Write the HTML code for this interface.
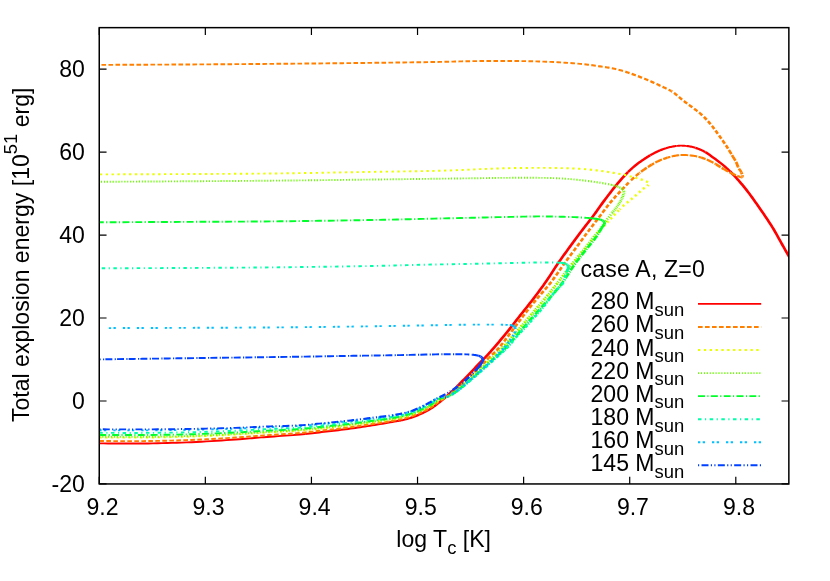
<!DOCTYPE html>
<html><head><meta charset="utf-8"><title>plot</title>
<style>html,body{margin:0;padding:0;background:#fff;}svg{display:block;will-change:transform;}text{font-family:"Liberation Sans",sans-serif;fill:#000;}</style></head><body>
<svg width="830" height="581" viewBox="0 0 830 581">
<defs><clipPath id="c"><rect x="99.25" y="27.65" width="689.60" height="456.30"/></clipPath></defs>
<g fill="none" stroke-linejoin="round" clip-path="url(#c)">
<g stroke="#ff0000"><path d="M99.30,443.40 L103.68,443.42 L108.05,443.44 L112.41,443.47 L116.76,443.50 L121.12,443.53 L125.49,443.55 L129.88,443.57 L134.29,443.56 L138.73,443.54 L143.20,443.50 L147.93,443.44 L152.70,443.36 L157.50,443.27 L162.32,443.16 L167.16,443.05 L172.02,442.91 L176.87,442.76 L181.73,442.59 L186.57,442.41 L191.40,442.20 L196.30,441.97 L201.31,441.71 L206.38,441.42 L211.48,441.11 L216.54,440.79 L221.51,440.47 L226.36,440.14 L231.02,439.81 L235.45,439.50 L239.60,439.20 L242.32,439.00 L244.87,438.80 L247.28,438.60 L249.60,438.40 L251.86,438.20 L254.10,438.01 L256.37,437.81 L258.70,437.61 L261.13,437.41 L263.70,437.20 L267.06,436.94 L270.60,436.69 L274.28,436.43 L278.04,436.17 L281.85,435.91 L285.66,435.64 L289.42,435.37 L293.10,435.09 L296.64,434.80 L300.00,434.50 L302.61,434.25 L305.14,433.99" stroke-width="1.90"/><path d="M305.14,433.99 L307.60,433.73 L310.00,433.46 L312.36,433.19 L314.70,432.92 L317.03,432.64 L319.36,432.36 L321.71,432.08 L324.10,431.80 L326.51,431.52 L328.92,431.24 L331.33,430.97 L333.74,430.69 L336.15,430.41 L338.56,430.12 L340.97,429.83 L343.38,429.53 L345.79,429.22 L348.20,428.90 L350.61,428.57 L353.02,428.23 L355.43,427.89 L357.85,427.53 L360.26,427.17 L362.67,426.81 L365.07,426.44 L367.48,426.06 L369.89,425.68 L372.30,425.30 L374.77,424.90 L377.32,424.48 L379.92,424.05 L382.54,423.61 L385.13,423.17 L387.66,422.74 L390.09,422.32 L392.38,421.92 L394.49,421.54 L396.40,421.20 L397.41,421.02 L398.33,420.87 L399.19,420.73 L399.99,420.60 L400.76,420.47 L401.52,420.33 L402.29,420.18 L403.08,420.02 L403.91,419.83 L404.80,419.60 L406.02,419.27 L407.29,418.90 L408.61,418.51 L409.97,418.08" stroke-width="2.09"/><path d="M409.97,418.08 L411.34,417.63 L412.72,417.16 L414.10,416.67 L415.46,416.16 L416.80,415.63 L418.10,415.10 L419.34,414.57 L420.57,414.02 L421.79,413.47 L423.00,412.89 L424.20,412.30 L425.39,411.69 L426.57,411.05 L427.75,410.40" stroke-width="2.28"/><path d="M427.75,410.40 L428.93,409.71 L430.10,409.00 L431.34,408.21 L432.57,407.39 L433.79,406.54 L435.01,405.66 L436.22,404.75 L437.43,403.83 L438.63,402.89 L439.82,401.93 L441.01,400.97 L442.20,400.00 L443.42,398.99 L444.64,397.95 L445.85,396.90 L447.05,395.83 L448.25,394.75 L449.44,393.66 L450.63,392.56 L451.82,391.44 L453.01,390.32 L454.20,389.20 L455.42,388.03 L456.64,386.85 L457.86,385.66" stroke-width="2.47"/><path d="M457.86,385.66 L459.07,384.45 L460.28,383.24 L461.49,382.02 L462.69,380.79 L463.90,379.56 L465.10,378.33 L466.30,377.10 L467.51,375.86 L468.71,374.61 L469.91,373.35 L471.11,372.09 L472.31,370.83 L473.51,369.56 L474.70,368.30 L475.90,367.03 L477.10,365.76 L478.30,364.50 L479.50,363.25 L480.69,362.02 L481.88,360.80 L483.06,359.58 L484.25,358.36 L485.45,357.12 L486.65,355.85 L487.88,354.55 L489.13,353.20 L490.40,351.80 L492.01,349.99 L493.67,348.09 L495.37,346.12 L497.10,344.09 L498.85,342.02 L500.60,339.93 L502.33,337.85 L504.03,335.79 L505.69,333.76 L507.30,331.80 L508.71,330.06 L510.08,328.34 L511.43,326.64 L512.76,324.95 L514.07,323.27 L515.37,321.60 L516.67,319.93 L517.97,318.26 L519.28,316.58 L520.60,314.90 L521.93,313.22 L523.26,311.55 L524.60,309.88 L525.94,308.22 L527.27,306.55 L528.61,304.88 L529.94,303.20 L531.26,301.52 L532.59,299.82 L533.90,298.10 L535.24,296.32 L536.60,294.53 L537.95,292.72 L539.30,290.89 L540.64,289.06 L541.97,287.23 L543.29,285.41 L544.59,283.59 L545.86,281.79 L547.10,280.00 L548.22,278.36 L549.31,276.72 L550.36,275.10 L551.41,273.48 L552.43,271.87 L553.46,270.26 L554.49,268.65 L555.54,267.04 L556.60,265.42 L557.70,263.80 L558.86,262.11 L560.05,260.42 L561.24,258.72 L562.45,257.03 L563.67,255.33 L564.90,253.63 L566.13,251.94 L567.36,250.25 L568.58,248.57 L569.80,246.90 L571.00,245.26 L572.19,243.63 L573.39,242.00 L574.58,240.37 L575.78,238.75 L576.98,237.13 L578.18,235.52 L579.39,233.91 L580.59,232.30 L581.80,230.70 L583.01,229.11 L584.25,227.50 L585.49,225.89 L586.75,224.29 L587.99,222.69 L589.23,221.10 L590.45,219.54 L591.64,217.99 L592.79,216.48 L593.90,215.00 L594.80,213.78 L595.65,212.60 L596.47,211.45 L597.27,210.32 L598.05,209.20 L598.84,208.08 L599.64,206.95 L600.46,205.80 L601.31,204.62 L602.20,203.40 L603.30,201.91 L604.45,200.37 L605.63,198.79 L606.83,197.18 L608.06,195.56 L609.29,193.94 L610.53,192.33 L611.77,190.74 L612.99,189.20 L614.20,187.70 L615.30,186.36 L616.39,185.03 L617.48,183.71 L618.57,182.41 L619.67,181.13 L620.76,179.87 L621.84,178.64 L622.93,177.43 L624.02,176.25 L625.10,175.10 L626.06,174.10 L627.02,173.12 L627.97,172.17" stroke-width="2.66"/><path d="M627.97,172.17 L628.92,171.23 L629.87,170.31 L630.83,169.42 L631.78,168.54 L632.75,167.68 L633.72,166.83 L634.70,166.00 L635.64,165.23 L636.58,164.48 L637.53,163.75 L638.49,163.03 L639.45,162.33 L640.41,161.65 L641.38,160.97 L642.35,160.31 L643.32,159.65 L644.30,159.00 L645.26,158.37 L646.23,157.75 L647.21,157.13 L648.19,156.52 L649.17,155.92 L650.15,155.34" stroke-width="2.47"/><path d="M650.15,155.34 L651.13,154.77 L652.10,154.23 L653.06,153.70 L654.00,153.20 L654.82,152.78 L655.63,152.37 L656.43,151.98 L657.23,151.61 L658.02,151.25 L658.81,150.90 L659.60,150.56 L660.40,150.23 L661.19,149.91 L662.00,149.60 L662.79,149.30 L663.58,149.02 L664.36,148.74 L665.15,148.47 L665.94,148.22" stroke-width="2.28"/><path d="M665.94,148.22 L666.73,147.97 L667.53,147.73 L668.34,147.51 L669.16,147.30 L670.00,147.10 L670.91,146.90 L671.84,146.70 L672.78,146.52 L673.73,146.35 L674.69,146.19 L675.65,146.05 L676.62,145.93" stroke-width="2.09"/><path d="M676.62,145.93 L677.58,145.83 L678.54,145.75 L679.50,145.70 L680.45,145.67 L681.40,145.66 L682.36,145.68 L683.32,145.71 L684.27,145.76 L685.23,145.83 L686.18,145.92" stroke-width="1.90"/><path d="M686.18,145.92 L687.13,146.03 L688.07,146.16 L689.00,146.30 L689.92,146.46 L690.84,146.64 L691.75,146.84 L692.67,147.06 L693.58,147.29 L694.48,147.54 L695.37,147.81" stroke-width="2.09"/><path d="M695.37,147.81 L696.26,148.09 L697.13,148.39 L698.00,148.70 L698.84,149.02 L699.67,149.35 L700.50,149.71 L701.33,150.08 L702.14,150.46 L702.94,150.85 L703.73,151.25 L704.51,151.66 L705.26,152.08" stroke-width="2.28"/><path d="M705.26,152.08 L706.00,152.50 L706.64,152.88 L707.25,153.27 L707.83,153.65 L708.39,154.04 L708.95,154.44 L709.52,154.86 L710.09,155.29 L710.69,155.73 L711.33,156.20 L712.00,156.70 L713.05,157.46 L714.17,158.27 L715.35,159.12 L716.58,160.02 L717.84,160.94 L719.11,161.90 L720.39,162.88 L721.66,163.87 L722.90,164.88 L724.10,165.90 L725.33,166.98 L726.56,168.09 L727.77,169.22 L728.98,170.38 L730.18,171.55" stroke-width="2.47"/><path d="M730.18,171.55 L731.38,172.74 L732.56,173.96 L733.75,175.19 L734.93,176.44 L736.10,177.70 L737.34,179.06 L738.57,180.44 L739.80,181.85 L741.01,183.28 L742.23,184.73 L743.43,186.19 L744.63,187.67 L745.83,189.17 L747.02,190.68 L748.20,192.20 L749.43,193.81 L750.65,195.44 L751.86,197.09 L753.06,198.76 L754.26,200.44 L755.45,202.14 L756.64,203.85 L757.82,205.56 L759.01,207.28 L760.20,209.00 L761.43,210.78 L762.67,212.57 L763.91,214.37 L765.15,216.19 L766.39,218.01 L767.61,219.83 L768.82,221.66 L770.01,223.48 L771.17,225.30 L772.30,227.10 L773.34,228.80 L774.35,230.52 L775.34,232.23 L776.31,233.94 L777.26,235.65 L778.20,237.35 L779.14,239.04 L780.06,240.71 L780.98,242.37 L781.90,244.00 L782.74,245.48 L783.56,246.94 L784.38,248.38 L785.19,249.81 L785.99,251.22 L786.79,252.64 L787.59,254.05 L788.39,255.46 L789.19,256.88 L790.00,258.30" stroke-width="2.66"/></g>
<g stroke="#ff8000"><path d="M99.30,441.00 L103.68,441.02 L108.05,441.04 L112.41,441.07 L116.76,441.10 L121.12,441.13 L125.49,441.15 L129.88,441.16 L134.29,441.16 L138.73,441.14 L143.20,441.10 L147.93,441.05 L152.70,440.98 L157.50,440.90 L162.32,440.80 L167.16,440.70 L172.01,440.58 L176.87,440.44 L181.73,440.29 L186.57,440.12 L191.40,439.94 L196.30,439.73 L201.31,439.50 L206.38,439.24 L211.48,438.97 L216.54,438.68 L221.51,438.39 L226.36,438.09 L231.02,437.80 L235.45,437.52 L239.60,437.25 L242.32,437.06 L244.87,436.87 L247.28,436.69 L249.60,436.51 L251.86,436.33 L254.10,436.14 L256.37,435.96 L258.70,435.78 L261.13,435.59 L263.70,435.40 L267.06,435.16 L270.60,434.93 L274.28,434.70 L278.04,434.47 L281.85,434.23 L285.66,433.99 L289.42,433.74 L293.10,433.48 L296.64,433.22 L300.00,432.94 L302.61,432.70 L305.14,432.45 L307.60,432.20" stroke-width="1.90" stroke-dasharray="4.667,2.333" stroke-dashoffset="0.00"/><path d="M307.60,432.20 L310.00,431.94 L312.36,431.67 L314.70,431.41 L317.03,431.14 L319.36,430.87 L321.71,430.59 L324.10,430.32 L326.51,430.05 L328.92,429.78 L331.33,429.51 L333.74,429.24 L336.15,428.97 L338.56,428.69 L340.97,428.41 L343.38,428.11 L345.79,427.82 L348.20,427.51 L350.61,427.19 L353.02,426.86 L355.43,426.52 L357.84,426.18 L360.25,425.84 L362.66,425.48 L365.07,425.12 L367.48,424.76 L369.89,424.39 L372.30,424.03 L374.74,423.65 L377.23,423.27 L379.75,422.89 L382.28,422.51 L384.79,422.11 L387.26,421.72 L389.68,421.32 L392.03,420.91 L394.27,420.50 L396.40,420.08 L397.93,419.76 L399.39,419.45 L400.81,419.15 L402.18,418.84 L403.52,418.52 L404.83,418.20 L406.13,417.86 L407.42,417.51 L408.70,417.13 L410.00,416.73" stroke-width="2.09" stroke-dasharray="4.615,2.308" stroke-dashoffset="5.67"/><path d="M410.00,416.73 L411.25,416.32 L412.49,415.89 L413.72,415.45 L414.94,414.99 L416.15,414.52 L417.35,414.03 L418.54,413.53 L419.71,413.02 L420.86,412.51 L422.00,411.98 L423.06,411.47 L424.10,410.96 L425.14,410.43 L426.16,409.90 L427.17,409.35 L428.16,408.80 L429.15,408.23" stroke-width="2.28" stroke-dasharray="4.470,2.235" stroke-dashoffset="4.88"/><path d="M429.15,408.23 L430.11,407.66 L431.06,407.09 L432.00,406.50 L432.85,405.95 L433.69,405.37 L434.50,404.78 L435.31,404.18 L436.10,403.58 L436.88,402.98 L437.66,402.39 L438.44,401.81 L439.22,401.26 L440.00,400.72 L440.71,400.27 L441.41,399.83 L442.11,399.42 L442.81,399.02 L443.50,398.62 L444.20,398.22 L444.89,397.82 L445.59,397.40 L446.29,396.96 L447.00,396.50 L447.78,395.97 L448.57,395.42 L449.35,394.86 L450.14,394.29 L450.92,393.71 L451.72,393.11 L452.52,392.49 L453.34,391.85 L454.16,391.18 L455.00,390.50 L456.04,389.63 L457.11,388.72 L458.19,387.77 L459.29,386.79 L460.39,385.79 L461.51,384.77 L462.63,383.73 L463.76,382.69 L464.88,381.64 L466.00,380.60 L467.19,379.49 L468.38,378.36 L469.58,377.22 L470.79,376.07 L471.99,374.91 L473.20,373.74 L474.41,372.56" stroke-width="2.47" stroke-dasharray="4.256,2.128" stroke-dashoffset="5.50"/><path d="M474.41,372.56 L475.61,371.38 L476.81,370.19 L478.00,369.00 L479.22,367.76 L480.46,366.47 L481.71,365.16 L482.95,363.84 L484.19,362.52 L485.42,361.22 L486.62,359.95 L487.79,358.73 L488.92,357.58" stroke-width="2.66" stroke-dasharray="4.002,2.001" stroke-dashoffset="5.83"/><path d="M488.92,357.58 L490.00,356.50 L490.77,355.77 L491.49,355.12 L492.19,354.51 L492.87,353.94 L493.54,353.37 L494.21,352.80 L494.89,352.19 L495.59,351.54" stroke-width="2.47" stroke-dasharray="4.256,2.128" stroke-dashoffset="2.27"/><path d="M495.59,351.54 L496.32,350.81 L497.10,350.00 L498.43,348.51 L499.84,346.82 L501.33,344.97 L502.86,343.00 L504.43,340.94 L506.02,338.83 L507.61,336.70 L509.18,334.60 L510.72,332.55 L512.20,330.60 L513.56,328.81 L514.91,327.02 L516.25,325.24 L517.57,323.47 L518.88,321.70 L520.19,319.95 L521.49,318.21 L522.80,316.49 L524.10,314.78 L525.40,313.10 L526.62,311.54 L527.83,310.00 L529.04,308.48 L530.24,306.98 L531.44,305.48 L532.64,304.00 L533.85,302.52 L535.06,301.05 L536.28,299.57 L537.50,298.10 L538.72,296.65 L539.96,295.23 L541.19,293.83 L542.43,292.43 L543.68,291.04 L544.92,289.63 L546.17,288.20 L547.42,286.75 L548.66,285.25 L549.90,283.70 L551.29,281.90 L552.68,280.03 L554.07,278.10 L555.46,276.14 L556.85,274.15 L558.24,272.16 L559.62,270.17 L560.99,268.20 L562.35,266.27 L563.70,264.40 L564.94,262.71 L566.16,261.04 L567.38,259.40 L568.59,257.77 L569.79,256.15 L570.99,254.55 L572.19,252.94 L573.39,251.33 L574.60,249.72 L575.80,248.10 L577.00,246.47 L578.21,244.84 L579.42,243.20 L580.63,241.56 L581.84,239.92 L583.04,238.29 L584.24,236.67 L585.43,235.06 L586.62,233.47 L587.80,231.90 L588.90,230.45 L589.98,229.02 L591.05,227.61 L592.12,226.22 L593.19,224.83 L594.26,223.44 L595.33,222.05 L596.41,220.65 L597.50,219.23 L598.60,217.80 L599.77,216.26 L600.95,214.70 L602.13,213.12 L603.32,211.53 L604.52,209.94 L605.72,208.35 L606.93,206.78 L608.15,205.22 L609.37,203.69 L610.60,202.20 L611.78,200.80 L612.98,199.42 L614.18,198.06 L615.38,196.72 L616.60,195.39 L617.81,194.08 L619.03,192.77 L620.25,191.47 L621.48,190.18 L622.70,188.90 L623.89,187.65 L625.07,186.40 L626.26,185.16 L627.45,183.92 L628.64,182.69 L629.83,181.48" stroke-width="2.66" stroke-dasharray="4.002,2.001" stroke-dashoffset="4.78"/><path d="M629.83,181.48 L631.04,180.29 L632.25,179.13 L633.47,178.00 L634.70,176.90 L635.87,175.90 L637.04,174.91 L638.22,173.96 L639.41,173.02" stroke-width="2.47" stroke-dasharray="4.256,2.128" stroke-dashoffset="4.72"/><path d="M639.41,173.02 L640.60,172.10 L641.80,171.21 L643.01,170.33 L644.23,169.47 L645.46,168.63 L646.70,167.80 L647.93,167.00 L649.17,166.20 L650.42,165.42 L651.68,164.66" stroke-width="2.47" stroke-dasharray="7.022,1.277" stroke-dashoffset="6.25"/><path d="M651.68,164.66 L652.95,163.91 L654.22,163.19 L655.50,162.50 L656.80,161.83 L658.09,161.20 L659.40,160.60 L660.69,160.05 L662.00,159.52 L663.33,159.02 L664.68,158.55 L666.02,158.10 L667.36,157.68" stroke-width="2.28" stroke-dasharray="7.375,1.341" stroke-dashoffset="4.58"/><path d="M667.36,157.68 L668.68,157.29 L669.99,156.93 L671.26,156.60 L672.50,156.30 L673.50,156.08 L674.48,155.88 L675.44,155.70 L676.38,155.54 L677.31,155.40 L678.24,155.29 L679.17,155.19" stroke-width="2.09" stroke-dasharray="7.615,1.385" stroke-dashoffset="4.54"/><path d="M679.17,155.19 L680.10,155.11 L681.04,155.05 L682.00,155.00 L682.99,154.98 L684.00,154.98 L685.02,155.00 L686.04,155.04 L687.06,155.10 L688.07,155.18 L689.08,155.27 L690.07,155.37" stroke-width="1.90" stroke-dasharray="7.700,1.400" stroke-dashoffset="7.74"/><path d="M690.07,155.37 L691.05,155.48 L692.00,155.60 L692.83,155.71 L693.64,155.82 L694.43,155.94 L695.20,156.07 L695.98,156.21 L696.75,156.37 L697.53,156.54 L698.33,156.74 L699.15,156.96 L700.00,157.20 L701.11,157.54" stroke-width="2.09" stroke-dasharray="7.615,1.385" stroke-dashoffset="0.47"/><path d="M701.11,157.54 L702.27,157.93 L703.46,158.34 L704.67,158.79 L705.89,159.27 L707.13,159.78 L708.36,160.31 L709.59,160.85 L710.81,161.42 L712.00,162.00 L713.23,162.64 L714.47,163.34 L715.70,164.07" stroke-width="2.28" stroke-dasharray="7.375,1.341" stroke-dashoffset="2.66"/><path d="M715.70,164.07 L716.93,164.83 L718.15,165.61 L719.37,166.39 L720.57,167.16 L721.76,167.91 L722.94,168.63 L724.10,169.30" stroke-width="2.47" stroke-dasharray="7.022,1.277" stroke-dashoffset="1.22"/><path d="M724.10,169.30 L725.11,169.86 L726.11,170.42 L727.11,170.96 L728.09,171.49 L729.07,172.01 L730.04,172.51 L730.98,172.99 L731.91,173.45 L732.82,173.89 L733.70,174.30 L734.39,174.61 L735.09,174.92 L735.78,175.22 L736.47,175.50 L737.14,175.77 L737.78,176.03 L738.40,176.26 L738.98,176.47 L739.51,176.65 L740.00,176.80 L740.25,176.88" stroke-width="2.28" stroke-dasharray="7.375,1.341" stroke-dashoffset="2.76"/><path d="M740.25,176.88 L740.49,176.96 L740.73,177.04 L740.95,177.12 L741.17,177.18 L741.37,177.23" stroke-width="2.09" stroke-dasharray="7.615,1.385" stroke-dashoffset="3.41"/><path d="M741.37,177.23 L741.55,177.27 L741.72,177.27 L741.87,177.25 L742.00,177.20" stroke-width="2.28" stroke-dasharray="7.375,1.341" stroke-dashoffset="4.46"/><path d="M742.00,177.20 L742.09,177.13 L742.17,177.03 L742.23,176.92" stroke-width="2.47" stroke-dasharray="7.022,1.277" stroke-dashoffset="4.84"/><path d="M742.23,176.92 L742.29,176.79 L742.33,176.64" stroke-width="2.66" stroke-dasharray="6.603,1.201" stroke-dashoffset="4.92"/><path d="M742.33,176.64 L742.36,176.49 L742.38,176.32 L742.40,176.15 L742.40,175.98 L742.40,175.80 L742.37,175.47 L742.31,175.11 L742.21,174.71 L742.08,174.29 L741.93,173.85 L741.76,173.41 L741.58,172.96 L741.39,172.52" stroke-width="2.85" stroke-dasharray="6.160,1.120" stroke-dashoffset="4.87"/><path d="M741.39,172.52 L741.19,172.10 L741.00,171.70 L740.80,171.33 L740.58,170.97 L740.34,170.62 L740.10,170.28 L739.84,169.94 L739.58,169.60 L739.33,169.25 L739.07,168.89 L738.83,168.51 L738.60,168.10 L738.33,167.56 L738.08,166.99" stroke-width="2.66" stroke-dasharray="6.603,1.201" stroke-dashoffset="1.96"/><path d="M738.08,166.99 L737.84,166.40 L737.61,165.78 L737.38,165.15 L737.15,164.51 L736.91,163.87 L736.65,163.23 L736.39,162.61 L736.10,162.00" stroke-width="2.85" stroke-dasharray="6.160,1.120" stroke-dashoffset="0.69"/><path d="M736.10,162.00 L735.78,161.39 L735.45,160.78 L735.10,160.18 L734.73,159.58 L734.36,158.98 L733.99,158.39 L733.61,157.79 L733.24,157.20 L732.86,156.60 L732.50,156.00 L732.14,155.40 L731.79,154.81 L731.44,154.22 L731.09,153.63 L730.74,153.04 L730.39,152.44 L730.03,151.84 L729.66,151.24 L729.29,150.62 L728.90,150.00" stroke-width="2.66" stroke-dasharray="6.603,1.201" stroke-dashoffset="6.36"/><path d="M728.90,150.00 L728.45,149.28 L727.99,148.55 L727.51,147.82 L727.03,147.07 L726.55,146.32 L726.05,145.56 L725.54,144.80 L725.04,144.04 L724.52,143.27 L724.00,142.50 L723.43,141.67 L722.85,140.82 L722.26,139.97 L721.66,139.11 L721.05,138.26 L720.44,137.40 L719.83,136.54 L719.22,135.68 L718.61,134.84 L718.00,134.00 L717.41,133.18 L716.82,132.37 L716.23,131.56 L715.63,130.75 L715.04,129.95 L714.44,129.15 L713.84,128.35 L713.24,127.56 L712.62,126.78 L712.00,126.00 L711.37,125.22 L710.74,124.45 L710.09,123.67 L709.45,122.90 L708.79,122.14 L708.14,121.38 L707.48,120.64 L706.82,119.91 L706.16,119.19 L705.50,118.50 L704.90,117.88 L704.31,117.29 L703.71,116.70" stroke-width="2.66" stroke-dasharray="4.002,2.001" stroke-dashoffset="4.42"/><path d="M703.71,116.70 L703.12,116.13 L702.52,115.57 L701.92,115.01 L701.31,114.46 L700.69,113.91 L700.05,113.36 L699.40,112.80 L698.67,112.19 L697.92,111.58 L697.14,110.97 L696.36,110.37 L695.56,109.76 L694.76,109.16 L693.96,108.57 L693.17,107.97 L692.38,107.38 L691.60,106.80 L690.86,106.25 L690.12,105.71 L689.39,105.17 L688.66,104.64 L687.92,104.11 L687.20,103.58 L686.47,103.05 L685.74,102.51 L685.02,101.96 L684.30,101.40 L683.57,100.81 L682.82,100.21 L682.08,99.59 L681.34,98.96 L680.60,98.34 L679.87,97.71 L679.15,97.10 L678.45,96.51 L677.76,95.94 L677.10,95.40 L676.60,94.99 L676.13,94.60 L675.68,94.22 L675.24,93.86 L674.81,93.50 L674.37,93.15 L673.91,92.80 L673.42,92.44 L672.88,92.08 L672.30,91.70 L671.33,91.12" stroke-width="2.47" stroke-dasharray="4.256,2.128" stroke-dashoffset="4.45"/><path d="M671.33,91.12 L670.26,90.53 L669.11,89.93 L667.89,89.32 L666.62,88.70 L665.33,88.09 L664.02,87.48 L662.72,86.88 L661.44,86.28 L660.20,85.70 L659.00,85.14 L657.81,84.58 L656.61,84.02 L655.41,83.48 L654.21,82.93 L653.01,82.39 L651.81,81.86 L650.61,81.33 L649.41,80.81 L648.20,80.30 L647.00,79.79 L645.79,79.29 L644.58,78.80 L643.37,78.31 L642.16,77.83 L640.95,77.35 L639.74,76.88 L638.53,76.42 L637.31,75.96 L636.10,75.50 L634.90,75.05 L633.71,74.61 L632.51,74.16 L631.31,73.72 L630.12,73.29 L628.92,72.87 L627.72,72.46 L626.51,72.06 L625.31,71.67" stroke-width="2.28" stroke-dasharray="4.470,2.235" stroke-dashoffset="1.38"/><path d="M625.31,71.67 L624.10,71.30 L622.90,70.95 L621.69,70.61 L620.49,70.28 L619.28,69.97 L618.07,69.66 L616.85,69.37 L615.64,69.08 L614.43,68.81 L613.21,68.55 L612.00,68.30 L610.81,68.07 L609.63,67.85 L608.45,67.65 L607.28,67.46 L606.10,67.28 L604.91,67.11 L603.71,66.93 L602.50,66.76 L601.26,66.58 L600.00,66.40 L598.55,66.19 L597.10,65.97 L595.63,65.75 L594.15,65.53 L592.64,65.31 L591.10,65.10 L589.54,64.89 L587.93,64.69 L586.29,64.49 L584.60,64.30 L582.41,64.07" stroke-width="2.09" stroke-dasharray="4.615,2.308" stroke-dashoffset="4.51"/><path d="M582.41,64.07 L580.13,63.85 L577.77,63.64 L575.35,63.44 L572.89,63.24 L570.40,63.06 L567.90,62.88 L565.41,62.71 L562.94,62.55 L560.50,62.40 L558.09,62.26 L555.68,62.13 L553.27,62.02 L550.86,61.91 L548.45,61.81 L546.04,61.71 L543.63,61.63 L541.22,61.55 L538.81,61.47 L536.40,61.40 L533.99,61.33 L531.58,61.28 L529.17,61.22 L526.76,61.18 L524.35,61.14 L521.94,61.10 L519.53,61.07 L517.12,61.04 L514.71,61.02 L512.30,61.00 L509.89,60.98 L507.48,60.97 L505.07,60.96 L502.66,60.96 L500.25,60.96 L497.84,60.96 L495.43,60.97 L493.02,60.97 L490.61,60.99 L488.20,61.00 L485.79,61.02 L483.38,61.04 L480.97,61.06 L478.56,61.08 L476.15,61.11 L473.74,61.14 L471.33,61.18 L468.92,61.22 L466.51,61.26 L464.10,61.30 L461.74,61.35 L459.46,61.40 L457.23,61.46 L455.01,61.52 L452.77,61.58 L450.47,61.65 L448.08,61.71 L445.56,61.78 L442.88,61.84 L440.00,61.90 L434.88,61.99 L429.31,62.09 L423.35,62.18 L417.06,62.27 L410.51,62.36 L403.75,62.45 L396.86,62.54 L389.89,62.63 L382.92,62.72 L376.00,62.80 L367.92,62.90 L359.64,62.99 L351.19,63.09 L342.61,63.18 L333.91,63.27 L325.15,63.36 L316.34,63.45 L307.53,63.54 L298.74,63.62 L290.00,63.70 L281.11,63.78 L272.21,63.86 L263.31,63.93 L254.39,64.01 L245.44,64.08 L236.46,64.15 L227.44,64.21 L218.36,64.28 L209.21,64.34 L200.00,64.40 L190.16,64.46 L180.22,64.52 L170.21,64.57 L160.13,64.62 L150.00,64.67 L139.85,64.71 L129.69,64.76 L119.53,64.80 L109.40,64.85 L99.30,64.90" stroke-width="1.90" stroke-dasharray="4.667,2.333" stroke-dashoffset="6.59"/></g>
<g stroke="#eaff00"><path d="M99.30,437.48 L103.68,437.49 L108.05,437.51 L112.41,437.54 L116.76,437.57 L121.12,437.59 L125.49,437.61 L129.88,437.62 L134.29,437.62 L138.73,437.61 L143.20,437.58 L147.93,437.53 L152.70,437.48 L157.50,437.41 L162.32,437.33 L167.16,437.24 L172.01,437.14 L176.87,437.03 L181.73,436.91 L186.57,436.77 L191.40,436.61 L196.30,436.44 L201.31,436.25 L206.38,436.04 L211.48,435.81 L216.54,435.58 L221.51,435.33 L226.36,435.09 L231.02,434.84 L235.45,434.60 L239.60,434.37 L242.32,434.21 L244.87,434.05 L247.28,433.89 L249.60,433.73 L251.86,433.57 L254.10,433.40 L256.37,433.24 L258.70,433.08 L261.13,432.91 L263.70,432.75 L267.06,432.55 L270.60,432.35 L274.28,432.16 L278.04,431.96 L281.85,431.76 L285.66,431.56 L289.42,431.35 L293.10,431.13 L296.64,430.89 L300.00,430.64 L302.61,430.42 L305.14,430.19 L307.60,429.95 L310.00,429.70" stroke-width="1.90" stroke-dasharray="2.333,3.500" stroke-dashoffset="0.00"/><path d="M310.00,429.70 L312.36,429.45 L314.70,429.19 L317.03,428.93 L319.36,428.67 L321.71,428.41 L324.10,428.15 L326.51,427.89 L328.92,427.63 L331.33,427.37 L333.74,427.11 L336.15,426.85 L338.56,426.59 L340.97,426.31 L343.38,426.04 L345.79,425.75 L348.20,425.46 L350.61,425.15 L353.02,424.84 L355.43,424.52 L357.84,424.20 L360.25,423.87 L362.66,423.53 L365.07,423.19 L367.48,422.85 L369.89,422.50 L372.30,422.15 L374.74,421.80 L377.23,421.44 L379.75,421.09 L382.28,420.73 L384.79,420.36 L387.27,419.99 L389.69,419.61 L392.03,419.23 L394.27,418.83 L396.40,418.43 L397.93,418.12 L399.40,417.82 L400.81,417.51 L402.18,417.20 L403.52,416.89 L404.83,416.57 L406.13,416.23 L407.42,415.87 L408.70,415.49 L410.00,415.09" stroke-width="2.09" stroke-dasharray="2.308,3.461" stroke-dashoffset="1.03"/><path d="M410.00,415.09 L411.25,414.68 L412.49,414.25 L413.72,413.80 L414.94,413.33 L416.15,412.86 L417.35,412.36 L418.53,411.86 L419.70,411.35 L420.86,410.83 L422.00,410.30 L423.06,409.80 L424.10,409.29 L425.13,408.77 L426.15,408.24 L427.16,407.70 L428.16,407.16 L429.14,406.60" stroke-width="2.28" stroke-dasharray="2.235,3.352" stroke-dashoffset="3.53"/><path d="M429.14,406.60 L430.11,406.04 L431.06,405.48 L432.00,404.91 L432.85,404.37 L433.68,403.80 L434.49,403.20 L435.29,402.60 L436.08,402.01 L436.86,401.42 L437.64,400.85 L438.42,400.32" stroke-width="2.47" stroke-dasharray="2.128,3.192" stroke-dashoffset="2.08"/><path d="M438.42,400.32 L439.21,399.82 L440.00,399.38 L440.70,399.04 L441.39,398.76 L442.09,398.52 L442.78,398.30 L443.47,398.09 L444.17,397.89 L444.87,397.67 L445.57,397.42 L446.28,397.14 L447.00,396.80 L447.87,396.34 L448.75,395.84 L449.63,395.30" stroke-width="2.28" stroke-dasharray="2.235,3.352" stroke-dashoffset="2.67"/><path d="M449.63,395.30 L450.51,394.73 L451.41,394.14 L452.31,393.51 L453.22,392.86 L454.14,392.19 L455.06,391.50 L456.00,390.80 L457.15,389.91 L458.32,388.98 L459.52,388.00 L460.72,386.99 L461.94,385.95 L463.16,384.88 L464.38,383.81 L465.59,382.74 L466.80,381.66 L468.00,380.60 L469.21,379.52 L470.42,378.43 L471.62,377.33 L472.82,376.23 L474.02,375.11 L475.22,374.00 L476.41,372.87 L477.61,371.75 L478.81,370.63 L480.00,369.50 L481.21,368.35 L482.44,367.19 L483.67,366.00 L484.90,364.82 L486.13,363.63 L487.34,362.46 L488.54,361.30 L489.72,360.17 L490.88,359.06 L492.00,358.00 L492.90,357.16 L493.77,356.37 L494.60,355.62 L495.41,354.90 L496.22,354.18 L497.04,353.44 L497.87,352.67 L498.74,351.85" stroke-width="2.47" stroke-dasharray="2.128,3.192" stroke-dashoffset="3.68"/><path d="M498.74,351.85 L499.64,350.97 L500.60,350.00 L502.18,348.34 L503.87,346.50 L505.66,344.50 L507.51,342.40 L509.41,340.21 L511.32,337.99 L513.24,335.76 L515.12,333.56 L516.95,331.43 L518.70,329.40 L520.22,327.64 L521.72,325.91 L523.20,324.19 L524.65,322.50 L526.10,320.81 L527.53,319.14 L528.95,317.47 L530.37,315.81 L531.78,314.16 L533.20,312.50 L534.56,310.91 L535.93,309.32 L537.29,307.74 L538.65,306.16 L540.00,304.59 L541.34,303.03 L542.66,301.48 L543.97,299.94 L545.25,298.41 L546.50,296.90 L547.60,295.56 L548.66,294.25 L549.69,292.97 L550.70,291.70 L551.71,290.43 L552.72,289.15 L553.74,287.85 L554.79,286.51 L555.87,285.14 L557.00,283.70 L558.48,281.82 L560.02,279.83 L561.62,277.77 L563.26,275.65 L564.92,273.50 L566.59,271.35 L568.25,269.22 L569.88,267.13 L571.47,265.12 L573.00,263.20 L574.26,261.65 L575.49,260.15 L576.69,258.69 L577.88,257.26 L579.06,255.85 L580.23,254.45 L581.40,253.05 L582.59,251.63 L583.78,250.18 L585.00,248.70 L586.33,247.05 L587.69,245.35 L589.07,243.61 L590.46,241.85 L591.85,240.08 L593.23,238.34 L594.59,236.63 L595.93,234.98 L597.24,233.39 L598.50,231.90 L599.49,230.76 L600.49,229.64 L601.48,228.53 L602.47,227.45 L603.44,226.40 L604.37,225.40 L605.27,224.45 L606.11,223.56 L606.89,222.74 L607.60,222.00 L607.96,221.63 L608.28,221.30 L608.58,221.00 L608.86,220.73 L609.14,220.46 L609.41,220.20 L609.68,219.94 L609.96,219.65 L610.27,219.34 L610.60,219.00 L611.12,218.45 L611.67,217.84 L612.25,217.20 L612.85,216.53 L613.46,215.84 L614.09,215.13 L614.72,214.43 L615.35,213.73 L615.98,213.05 L616.60,212.40 L617.20,211.78 L617.79,211.17 L618.39,210.56 L618.99,209.95 L619.59,209.35" stroke-width="2.66" stroke-dasharray="2.001,3.001" stroke-dashoffset="1.30"/><path d="M619.59,209.35 L620.19,208.76 L620.81,208.17 L621.43,207.58 L622.06,206.99 L622.70,206.40 L623.39,205.79 L624.09,205.18 L624.80,204.58 L625.52,203.98 L626.25,203.39 L626.98,202.79 L627.72,202.20 L628.45,201.60 L629.18,201.00 L629.90,200.40 L630.62,199.79 L631.35,199.18 L632.09,198.57 L632.82,197.95 L633.55,197.34 L634.27,196.72 L635.00,196.11 L635.71,195.50 L636.41,194.90 L637.10,194.30 L637.73,193.74 L638.35,193.18 L638.97,192.61 L639.59,192.04 L640.19,191.47 L640.79,190.92 L641.38,190.38 L641.96,189.86 L642.54,189.36 L643.10,188.90 L643.55,188.56 L644.02,188.24 L644.48,187.94 L644.95,187.65 L645.40,187.37 L645.84,187.10 L646.26,186.82 L646.64,186.53 L646.99,186.23 L647.30,185.90" stroke-width="2.47" stroke-dasharray="2.128,3.192" stroke-dashoffset="0.94"/><path d="M647.30,185.90 L647.53,185.62 L647.75,185.33 L647.97,185.03 L648.18,184.72 L648.36,184.41 L648.52,184.10 L648.63,183.80 L648.71,183.51 L648.73,183.24 L648.70,183.00 L648.61,182.78 L648.46,182.59 L648.26,182.41" stroke-width="2.66" stroke-dasharray="2.001,3.001" stroke-dashoffset="0.51"/><path d="M648.26,182.41 L648.02,182.24 L647.75,182.08 L647.45,181.92" stroke-width="2.47" stroke-dasharray="2.128,3.192" stroke-dashoffset="4.95"/><path d="M647.45,181.92 L647.13,181.77 L646.79,181.62 L646.45,181.46 L646.10,181.30 L645.51,181.03 L644.86,180.75 L644.15,180.48 L643.40,180.21 L642.61,179.95 L641.79,179.68 L640.94,179.41 L640.07,179.14" stroke-width="2.28" stroke-dasharray="2.235,3.352" stroke-dashoffset="0.59"/><path d="M640.07,179.14 L639.19,178.87 L638.30,178.60 L637.13,178.25 L635.92,177.89 L634.66,177.53 L633.36,177.17 L632.03,176.81 L630.68,176.45 L629.30,176.10 L627.91,175.76 L626.51,175.42 L625.10,175.10 L623.51,174.75 L621.91,174.41 L620.29,174.09 L618.65,173.77 L616.98,173.46 L615.29,173.15 L613.57,172.86 L611.81,172.57 L610.02,172.28 L608.20,172.00 L605.96,171.67 L603.65,171.34 L601.27,171.01 L598.85,170.69 L596.39,170.38 L593.91,170.08 L591.43,169.80 L588.96,169.54" stroke-width="2.09" stroke-dasharray="2.308,3.461" stroke-dashoffset="2.92"/><path d="M588.96,169.54 L586.51,169.31 L584.10,169.10 L581.79,168.92 L579.50,168.77 L577.22,168.64 L574.95,168.53 L572.68,168.44 L570.40,168.36 L568.12,168.29 L565.83,168.22 L563.53,168.16 L561.20,168.10 L558.76,168.04 L556.30,168.00 L553.82,167.96 L551.33,167.94 L548.84,167.92 L546.34,167.91 L543.85,167.90 L541.35,167.90 L538.87,167.90 L536.40,167.90 L533.98,167.90 L531.56,167.91 L529.14,167.92 L526.73,167.93 L524.33,167.94 L521.92,167.97 L519.52,167.99 L517.11,168.02 L514.71,168.06 L512.30,168.10 L509.92,168.15 L507.60,168.20 L505.31,168.26 L503.03,168.32 L500.73,168.38 L498.39,168.45 L495.99,168.53 L493.51,168.62 L490.92,168.70 L488.20,168.80 L484.25,168.95 L480.11,169.12 L475.79,169.32 L471.33,169.52 L466.73,169.74 L462.02,169.95 L457.21,170.16 L452.33,170.36 L447.38,170.54 L442.40,170.70 L436.34,170.86 L430.17,171.00 L423.88,171.12 L417.47,171.22 L410.93,171.32 L404.28,171.41 L397.50,171.50 L390.59,171.59 L383.56,171.69 L376.40,171.80 L367.46,171.95 L358.14,172.12 L348.54,172.29 L338.72,172.47 L328.78,172.64 L318.79,172.82 L308.83,172.98 L299.00,173.14 L289.36,173.28 L280.00,173.40 L271.74,173.49 L263.67,173.58 L255.74,173.65 L247.91,173.71 L240.11,173.77 L232.30,173.82 L224.44,173.86 L216.47,173.91 L208.34,173.95 L200.00,174.00 L190.40,174.05 L180.60,174.10 L170.64,174.14 L160.55,174.18 L150.37,174.22 L140.14,174.25 L129.87,174.29 L119.63,174.32 L109.42,174.36 L99.30,174.40" stroke-width="1.90" stroke-dasharray="2.333,3.500" stroke-dashoffset="3.09"/></g>
<g stroke="#6aff00"><path d="M99.30,436.77 L103.68,436.79 L108.05,436.81 L112.41,436.83 L116.76,436.86 L121.12,436.88 L125.49,436.90 L129.88,436.91 L134.29,436.91 L138.73,436.90 L143.20,436.87 L147.93,436.83 L152.70,436.78 L157.50,436.71 L162.32,436.64 L167.16,436.55 L172.01,436.46 L176.87,436.35 L181.73,436.23 L186.57,436.10 L191.40,435.95 L196.30,435.78 L201.31,435.60 L206.38,435.40 L211.48,435.18 L216.54,434.95 L221.51,434.72 L226.36,434.49 L231.02,434.25 L235.45,434.02 L239.60,433.80 L242.32,433.64 L244.87,433.48 L247.28,433.33 L249.60,433.17 L251.86,433.01 L254.10,432.86 L256.37,432.70 L258.70,432.54 L261.13,432.38 L263.70,432.22 L267.06,432.02 L270.60,431.83 L274.28,431.65 L278.04,431.46 L281.85,431.27 L285.66,431.08 L289.42,430.87 L293.10,430.66 L296.64,430.42 L300.00,430.18 L302.61,429.96 L305.14,429.73 L307.60,429.50 L310.00,429.25 L312.36,429.00" stroke-width="1.90" stroke-dasharray="1.167,1.750" stroke-dashoffset="0.00"/><path d="M312.36,429.00 L314.70,428.75 L317.03,428.49 L319.36,428.23 L321.71,427.97 L324.10,427.71 L326.51,427.46 L328.92,427.20 L331.33,426.95 L333.74,426.69 L336.15,426.43 L338.56,426.16 L340.97,425.90 L343.38,425.62 L345.79,425.34 L348.20,425.05 L350.61,424.75 L353.02,424.44 L355.43,424.12 L357.84,423.80 L360.25,423.47 L362.66,423.14 L365.07,422.80 L367.48,422.46 L369.89,422.12 L372.30,421.77 L374.74,421.43 L377.23,421.08 L379.75,420.73 L382.28,420.37 L384.79,420.01 L387.27,419.65 L389.69,419.27 L392.03,418.89 L394.27,418.50 L396.40,418.10 L397.93,417.79 L399.40,417.49 L400.81,417.18 L402.18,416.88 L403.52,416.56 L404.83,416.24 L406.13,415.90 L407.42,415.54 L408.70,415.16 L410.00,414.76" stroke-width="2.09" stroke-dasharray="1.154,1.731" stroke-dashoffset="0.49"/><path d="M410.00,414.76 L411.25,414.35 L412.49,413.92 L413.72,413.47 L414.94,413.00 L416.15,412.52 L417.35,412.03 L418.53,411.53 L419.70,411.01 L420.86,410.50 L422.00,409.97 L423.06,409.47 L424.10,408.96 L425.13,408.44 L426.15,407.91 L427.16,407.37 L428.16,406.83 L429.14,406.28" stroke-width="2.28" stroke-dasharray="1.117,1.676" stroke-dashoffset="0.69"/><path d="M429.14,406.28 L430.11,405.72 L431.06,405.16 L432.00,404.59 L432.85,404.05 L433.68,403.48 L434.49,402.89 L435.28,402.29 L436.07,401.69 L436.85,401.10 L437.63,400.54 L438.42,400.01" stroke-width="2.47" stroke-dasharray="1.064,1.596" stroke-dashoffset="2.04"/><path d="M438.42,400.01 L439.20,399.53 L440.00,399.11 L440.70,398.80 L441.39,398.55 L442.08,398.35 L442.78,398.17 L443.47,398.01 L444.17,397.84 L444.87,397.66 L445.57,397.46 L446.28,397.21 L447.00,396.90 L447.87,396.46 L448.75,395.98 L449.63,395.46" stroke-width="2.28" stroke-dasharray="1.117,1.676" stroke-dashoffset="2.60"/><path d="M449.63,395.46 L450.52,394.90 L451.41,394.31 L452.31,393.69 L453.22,393.05 L454.14,392.38 L455.06,391.70 L456.00,391.00 L457.15,390.13 L458.32,389.20 L459.52,388.23 L460.72,387.23 L461.94,386.20 L463.16,385.15 L464.38,384.09 L465.60,383.02 L466.80,381.96 L468.00,380.90 L469.21,379.82 L470.42,378.74 L471.62,377.64 L472.82,376.53 L474.02,375.42 L475.22,374.30 L476.42,373.18 L477.61,372.05 L478.81,370.93 L480.00,369.80 L481.21,368.65 L482.44,367.49 L483.68,366.31 L484.92,365.12 L486.16,363.94 L487.38,362.76 L488.58,361.60 L489.75,360.47 L490.90,359.37 L492.00,358.30 L492.86,357.47 L493.68,356.69 L494.46,355.96 L495.22,355.24 L495.98,354.52" stroke-width="2.47" stroke-dasharray="1.064,1.596" stroke-dashoffset="0.75"/><path d="M495.98,354.52 L496.74,353.79 L497.52,353.03 L498.33,352.22 L499.19,351.35 L500.10,350.40 L501.65,348.74 L503.33,346.90 L505.11,344.90 L506.96,342.79 L508.86,340.61 L510.79,338.39 L512.71,336.16 L514.61,333.96 L516.45,331.83 L518.20,329.80 L519.72,328.04 L521.22,326.31 L522.70,324.59 L524.16,322.90 L525.60,321.21 L527.04,319.54 L528.46,317.87 L529.87,316.21 L531.29,314.56 L532.70,312.90 L534.05,311.31 L535.41,309.72 L536.76,308.14 L538.11,306.56 L539.44,304.99 L540.77,303.43 L542.08,301.88 L543.37,300.34 L544.65,298.81 L545.90,297.30 L547.01,295.96 L548.08,294.65 L549.12,293.37 L550.15,292.10 L551.17,290.83 L552.19,289.55 L553.22,288.25 L554.28,286.92 L555.37,285.54 L556.50,284.10 L557.96,282.22 L559.48,280.24 L561.05,278.17 L562.66,276.05 L564.28,273.90 L565.91,271.75 L567.53,269.62 L569.13,267.53 L570.69,265.52 L572.20,263.60 L573.45,262.04 L574.68,260.54 L575.88,259.08 L577.07,257.66 L578.25,256.25 L579.43,254.85 L580.61,253.45 L581.79,252.03 L582.99,250.59 L584.20,249.10 L585.56,247.40 L587.00,245.58 L588.49,243.67 L589.99,241.73 L591.48,239.81 L592.92,237.96 L594.28,236.23 L595.51,234.68 L596.60,233.35 L597.50,232.30 L597.79,231.98 L598.06,231.71 L598.30,231.48 L598.53,231.27 L598.74,231.08 L598.94,230.90 L599.15,230.71 L599.35,230.50 L599.57,230.27 L599.80,230.00 L600.15,229.55 L600.50,229.06 L600.86,228.52 L601.22,227.95 L601.59,227.37 L601.96,226.77 L602.33,226.18 L602.69,225.60 L603.05,225.03 L603.40,224.50 L603.71,224.05 L604.00,223.61 L604.30,223.18 L604.58,222.76 L604.87,222.34 L605.16,221.92 L605.46,221.50 L605.76,221.08 L606.08,220.64 L606.40,220.20 L606.79,219.68 L607.18,219.16 L607.59,218.63 L608.01,218.09 L608.43,217.55 L608.86,217.00 L609.29,216.46 L609.73,215.90 L610.16,215.35 L610.60,214.80 L611.07,214.21 L611.55,213.62 L612.03,213.03" stroke-width="2.66" stroke-dasharray="1.000,1.501" stroke-dashoffset="2.46"/><path d="M612.03,213.03 L612.52,212.43 L613.01,211.83 L613.50,211.22 L613.99,210.62 L614.47,210.01 L614.94,209.41 L615.40,208.80 L615.84,208.21 L616.29,207.61 L616.73,207.02 L617.16,206.43 L617.59,205.83 L618.02,205.23 L618.43,204.63 L618.83,204.02 L619.22,203.41 L619.60,202.80 L619.96,202.20 L620.31,201.58 L620.66,200.96 L620.99,200.34 L621.32,199.71 L621.63,199.09" stroke-width="2.66" stroke-dasharray="1.000,0.800" stroke-dashoffset="1.71"/><path d="M621.63,199.09 L621.93,198.47 L622.21,197.86 L622.47,197.27 L622.70,196.70 L622.88,196.25 L623.05,195.80 L623.22,195.36 L623.37,194.92 L623.51,194.49 L623.64,194.07 L623.74,193.66 L623.82,193.26 L623.88,192.87 L623.90,192.50 L623.90,192.23 L623.89,191.97 L623.87,191.72 L623.83,191.47 L623.78,191.23 L623.72,191.00 L623.64,190.77" stroke-width="2.85" stroke-dasharray="0.933,0.747" stroke-dashoffset="0.75"/><path d="M623.64,190.77 L623.55,190.54 L623.43,190.32 L623.30,190.10 L623.10,189.83 L622.87,189.57 L622.61,189.31" stroke-width="2.66" stroke-dasharray="1.000,0.800" stroke-dashoffset="1.02"/><path d="M622.61,189.31 L622.32,189.06 L622.00,188.82 L621.67,188.58 L621.32,188.35 L620.95,188.13 L620.58,187.91" stroke-width="2.47" stroke-dasharray="1.064,0.851" stroke-dashoffset="1.10"/><path d="M620.58,187.91 L620.20,187.70 L619.70,187.44 L619.18,187.19 L618.64,186.96 L618.07,186.73 L617.48,186.52 L616.87,186.31 L616.24,186.10 L615.58,185.90" stroke-width="2.28" stroke-dasharray="1.117,0.894" stroke-dashoffset="1.71"/><path d="M615.58,185.90 L614.90,185.70 L614.20,185.50 L613.19,185.23 L612.12,184.97" stroke-width="2.09" stroke-dasharray="1.154,0.923" stroke-dashoffset="1.09"/><path d="M612.12,184.97 L611.00,184.72 L609.83,184.47 L608.63,184.24 L607.39,184.01 L606.12,183.78 L604.83,183.55 L603.52,183.33 L602.20,183.10 L600.55,182.82 L598.86,182.54 L597.13,182.27 L595.36,182.00 L593.55,181.73 L591.71,181.47 L589.84,181.22 L587.95,180.97 L586.03,180.73 L584.10,180.50 L581.83,180.24 L579.50,179.99 L577.12,179.75" stroke-width="2.09" stroke-dasharray="1.154,1.731" stroke-dashoffset="2.63"/><path d="M577.12,179.75 L574.70,179.52 L572.26,179.30 L569.79,179.09 L567.33,178.89 L564.86,178.71 L562.42,178.54 L560.00,178.40 L557.65,178.28 L555.35,178.18 L553.07,178.09 L550.79,178.03 L548.51,177.97 L546.20,177.93 L543.85,177.89 L541.44,177.86 L538.97,177.83 L536.40,177.80 L533.03,177.77 L529.47,177.75 L525.75,177.75 L521.94,177.76 L518.08,177.77 L514.23,177.79 L510.45,177.82 L506.78,177.84 L503.28,177.87 L500.00,177.90 L497.68,177.92 L495.50,177.95 L493.42,177.97 L491.42,178.00 L489.44,178.03 L487.46,178.07 L485.45,178.10 L483.36,178.13 L481.15,178.17 L478.80,178.20 L475.43,178.25 L471.94,178.29 L468.32,178.34 L464.58,178.39 L460.72,178.44 L456.77,178.49 L452.71,178.54 L448.56,178.59 L444.32,178.65 L440.00,178.70 L434.33,178.77 L428.49,178.85 L422.48,178.92 L416.32,179.00 L410.00,179.08 L403.54,179.17 L396.94,179.25 L390.21,179.33 L383.36,179.42 L376.40,179.50 L367.53,179.61 L358.25,179.72 L348.67,179.84 L338.85,179.95 L328.89,180.07 L318.87,180.19 L308.89,180.30 L299.02,180.41 L289.37,180.51 L280.00,180.60 L271.74,180.68 L263.67,180.75 L255.74,180.81 L247.90,180.87 L240.11,180.93 L232.30,180.98 L224.44,181.04 L216.47,181.09 L208.34,181.14 L200.00,181.20 L190.40,181.26 L180.60,181.32 L170.64,181.39 L160.55,181.45 L150.37,181.50 L140.14,181.56 L129.87,181.62 L119.63,181.68 L109.42,181.74 L99.30,181.80" stroke-width="1.90" stroke-dasharray="1.167,1.750" stroke-dashoffset="0.36"/></g>
<g stroke="#00ff2a"><path d="M99.30,434.94 L103.68,434.95 L108.05,434.97 L112.41,435.00 L116.76,435.02 L121.12,435.04 L125.49,435.06 L129.88,435.07 L134.29,435.08 L138.73,435.06 L143.20,435.04 L147.93,435.00 L152.70,434.95 L157.50,434.90 L162.32,434.83 L167.16,434.76 L172.01,434.67 L176.87,434.58 L181.73,434.47 L186.57,434.35 L191.40,434.22 L196.30,434.07 L201.31,433.91 L206.38,433.73 L211.48,433.54 L216.54,433.34 L221.51,433.13 L226.36,432.92 L231.02,432.71 L235.45,432.50 L239.60,432.30 L242.32,432.16 L244.87,432.01 L247.28,431.87 L249.60,431.72 L251.86,431.58 L254.10,431.43 L256.37,431.28 L258.70,431.14 L261.13,430.99 L263.70,430.84 L267.06,430.66 L270.60,430.49 L274.28,430.33 L278.04,430.16 L281.85,429.99 L285.66,429.81 L289.42,429.63 L293.10,429.43 L296.64,429.21 L300.00,428.98 L302.61,428.77 L305.14,428.55 L307.60,428.32 L310.00,428.09 L312.36,427.84 L314.70,427.59" stroke-width="1.90" stroke-dasharray="7.000,2.333,1.167,2.333" stroke-dashoffset="0.00"/><path d="M314.70,427.59 L317.03,427.34 L319.36,427.09 L321.71,426.83 L324.10,426.58 L326.51,426.33 L328.92,426.08 L331.33,425.83 L333.74,425.58 L336.15,425.33 L338.56,425.07 L340.97,424.81 L343.38,424.54 L345.79,424.26 L348.20,423.98 L350.61,423.69 L353.02,423.39 L355.43,423.08 L357.84,422.77 L360.25,422.45 L362.66,422.13 L365.07,421.80 L367.48,421.47 L369.89,421.14 L372.30,420.80 L374.74,420.46 L377.23,420.13 L379.75,419.79 L382.28,419.45 L384.79,419.10 L387.27,418.75 L389.69,418.39 L392.03,418.02 L394.27,417.64 L396.40,417.24 L397.93,416.94 L399.40,416.64 L400.81,416.33 L402.18,416.03 L403.52,415.72 L404.83,415.39 L406.13,415.05 L407.42,414.69 L408.70,414.31 L410.00,413.91" stroke-width="2.09" stroke-dasharray="6.923,2.308,1.154,2.308" stroke-dashoffset="10.27"/><path d="M410.00,413.91 L411.25,413.50 L412.49,413.06 L413.72,412.61 L414.94,412.14 L416.15,411.66 L417.35,411.16 L418.53,410.66 L419.70,410.14 L420.86,409.62 L422.00,409.10 L423.05,408.60 L424.10,408.09 L425.13,407.57 L426.15,407.05 L427.16,406.51 L428.16,405.97 L429.14,405.43" stroke-width="2.28" stroke-dasharray="6.705,2.235,1.117,2.235" stroke-dashoffset="4.49"/><path d="M429.14,405.43 L430.11,404.88 L431.06,404.32 L432.00,403.77 L432.85,403.23 L433.67,402.66 L434.48,402.07 L435.28,401.46 L436.06,400.87 L436.85,400.29 L437.63,399.74" stroke-width="2.47" stroke-dasharray="6.384,2.128,1.064,2.128" stroke-dashoffset="0.86"/><path d="M437.63,399.74 L438.41,399.23 L439.20,398.79 L440.00,398.41 L440.69,398.16" stroke-width="2.28" stroke-dasharray="6.705,2.235,1.117,2.235" stroke-dashoffset="11.53"/><path d="M440.69,398.16 L441.38,397.99 L442.07,397.86 L442.76,397.77 L443.45,397.70 L444.14,397.63 L444.84,397.54 L445.55,397.42 L446.27,397.24" stroke-width="2.09" stroke-dasharray="6.923,2.308,1.154,2.308" stroke-dashoffset="2.83"/><path d="M446.27,397.24 L447.00,397.00 L447.95,396.60 L448.92,396.14 L449.90,395.62 L450.90,395.06" stroke-width="2.28" stroke-dasharray="6.705,2.235,1.117,2.235" stroke-dashoffset="8.21"/><path d="M450.90,395.06 L451.90,394.45" stroke-width="2.28" stroke-dasharray="6.705,1.341,1.117,1.341" stroke-dashoffset="9.13"/><path d="M451.90,394.45 L452.92,393.80 L453.94,393.13 L454.96,392.43 L455.98,391.72 L457.00,391.00 L458.18,390.13 L459.37,389.22 L460.57,388.25 L461.77,387.25 L462.98,386.23 L464.19,385.19 L465.39,384.13 L466.60,383.08 L467.80,382.03 L469.00,381.00 L470.21,379.97 L471.41,378.93 L472.61,377.89 L473.81,376.85 L475.02,375.80 L476.21,374.75 L477.41,373.69 L478.61,372.63 L479.81,371.57 L481.00,370.50 L482.21,369.41 L483.42,368.31 L484.63,367.20 L485.84,366.09 L487.05,364.97 L488.25,363.85 L489.45,362.75 L490.64,361.65 L491.83,360.57 L493.00,359.50 L494.08,358.54 L495.14,357.63 L496.18,356.74 L497.21,355.87 L498.24,355.00 L499.28,354.11 L500.34,353.18 L501.42,352.19 L502.54,351.14" stroke-width="2.47" stroke-dasharray="6.384,1.277,1.064,1.277" stroke-dashoffset="9.84"/><path d="M502.54,351.14 L503.70,350.00 L505.45,348.20 L507.31,346.20 L509.24,344.06 L511.23,341.81 L513.25,339.48 L515.28,337.13 L517.29,334.78 L519.27,332.49 L521.18,330.28 L523.00,328.20 L524.48,326.53 L525.93,324.89 L527.34,323.30 L528.73,321.73 L530.10,320.19 L531.45,318.65 L532.81,317.13 L534.16,315.60 L535.52,314.06 L536.90,312.50 L538.29,310.94 L539.69,309.37 L541.09,307.80 L542.49,306.24 L543.89,304.67 L545.28,303.11 L546.66,301.55 L548.03,299.99 L549.38,298.44 L550.70,296.90 L551.94,295.45 L553.17,294.01 L554.39,292.57 L555.59,291.14 L556.79,289.72 L557.97,288.29 L559.13,286.85 L560.28,285.41 L561.40,283.96 L562.50,282.50 L563.55,281.05 L564.58,279.57 L565.60,278.06 L566.61,276.55 L567.59,275.03 L568.56,273.54 L569.50,272.07 L570.42,270.65 L571.32,269.29 L572.20,268.00 L572.84,267.07 L573.45,266.19 L574.04,265.35 L574.61,264.53 L575.18,263.73 L575.74,262.94 L576.32,262.14 L576.91,261.33 L577.54,260.48 L578.20,259.60 L579.06,258.47 L579.97,257.30 L580.92,256.10 L581.89,254.87 L582.88,253.63 L583.88,252.39 L584.89,251.14 L585.88,249.91 L586.85,248.69 L587.80,247.50 L588.68,246.40 L589.57,245.30 L590.45,244.21 L591.33,243.13 L592.21,242.05 L593.07,240.98 L593.91,239.91 L594.74,238.84 L595.53,237.77 L596.30,236.70 L596.98,235.70 L597.65,234.66 L598.31,233.60 L598.96,232.54 L599.59,231.49" stroke-width="2.66" stroke-dasharray="6.003,1.201,1.000,1.201" stroke-dashoffset="7.04"/><path d="M599.59,231.49 L600.19,230.47 L600.77,229.49 L601.31,228.58 L601.83,227.74 L602.30,227.00 L602.56,226.63 L602.83,226.28 L603.09,225.96 L603.35,225.66 L603.59,225.37 L603.82,225.10 L604.02,224.83 L604.18,224.56 L604.31,224.28" stroke-width="2.66"/><path d="M604.31,224.28 L604.40,224.00 L604.44,223.77 L604.46,223.54 L604.46,223.31 L604.45,223.08 L604.41,222.85 L604.36,222.63 L604.29,222.41" stroke-width="2.85"/><path d="M604.29,222.41 L604.21,222.20 L604.11,221.99 L604.00,221.80 L603.84,221.58 L603.66,221.37 L603.45,221.17" stroke-width="2.66"/><path d="M603.45,221.17 L603.22,220.98 L602.97,220.80 L602.70,220.62 L602.42,220.46" stroke-width="2.47"/><path d="M602.42,220.46 L602.12,220.30 L601.81,220.14 L601.50,220.00 L601.05,219.82 L600.57,219.66" stroke-width="2.28"/><path d="M600.57,219.66 L600.06,219.52 L599.53,219.39 L598.97,219.28 L598.40,219.18 L597.81,219.08 L597.21,218.99 L596.61,218.89 L596.00,218.80 L595.27,218.69 L594.51,218.59 L593.74,218.50 L592.95,218.42 L592.15,218.35" stroke-width="2.09"/><path d="M592.15,218.35 L591.34,218.28 L590.51,218.21 L589.68,218.14 L588.84,218.07 L588.00,218.00" stroke-width="1.90"/><path d="M588.00,218.00 L587.07,217.92 L586.14,217.84 L585.20,217.77 L584.26,217.70 L583.30,217.62 L582.33,217.55 L581.32,217.49 L580.29,217.42 L579.22,217.36 L578.10,217.30 L576.51,217.22 L574.84,217.15 L573.10,217.08 L571.29,217.02 L569.45,216.96 L567.57,216.90 L565.67,216.84 L563.76,216.79 L561.87,216.75 L560.00,216.70 L558.06,216.65 L556.13,216.61 L554.20,216.57 L552.27,216.53 L550.32,216.49 L548.34,216.46 L546.33,216.43 L544.27,216.41 L542.17,216.40 L540.00,216.40 L537.25,216.41 L534.40,216.44 L531.46,216.47 L528.46,216.52 L525.42,216.58 L522.33,216.64 L519.23,216.71 L516.13,216.77 L513.05,216.84 L510.00,216.90 L506.92,216.96 L503.85,217.03 L500.79,217.09 L497.73,217.16 L494.65,217.23 L491.55,217.30 L488.43,217.38 L485.27,217.45 L482.06,217.53 L478.80,217.60 L475.13,217.68 L471.46,217.77 L467.77,217.86 L464.04,217.94 L460.26,218.03 L456.41,218.12 L452.47,218.21 L448.44,218.31 L444.29,218.40 L440.00,218.50 L434.33,218.63 L428.49,218.77 L422.48,218.91 L416.32,219.05 L410.00,219.20 L403.54,219.34 L396.94,219.49 L390.21,219.63 L383.36,219.77 L376.40,219.90 L367.53,220.06 L358.26,220.22 L348.67,220.37 L338.85,220.53 L328.89,220.68 L318.87,220.82 L308.89,220.96 L299.03,221.08 L289.37,221.20 L280.00,221.30 L271.74,221.38 L263.67,221.45 L255.74,221.51 L247.90,221.56 L240.11,221.60 L232.30,221.64 L224.44,221.68 L216.47,221.72 L208.34,221.76 L200.00,221.80 L190.40,221.85 L180.60,221.90 L170.64,221.95 L160.55,222.00 L150.37,222.05 L140.14,222.10 L129.87,222.15 L119.63,222.20 L109.42,222.25 L99.30,222.30" stroke-width="1.90" stroke-dasharray="7.000,2.333,1.167,2.333" stroke-dashoffset="3.34"/></g>
<g stroke="#00ffaa"><path d="M99.30,432.82 L103.68,432.84 L108.05,432.86 L112.41,432.88 L116.76,432.90 L121.12,432.92 L125.49,432.94 L129.88,432.95 L134.29,432.95 L138.73,432.95 L143.20,432.92 L147.93,432.89 L152.70,432.85 L157.50,432.81 L162.32,432.75 L167.16,432.69 L172.01,432.61 L176.87,432.53 L181.72,432.44 L186.57,432.34 L191.40,432.22 L196.29,432.10 L201.31,431.96 L206.38,431.81 L211.48,431.65 L216.54,431.48 L221.51,431.30 L226.36,431.12 L231.02,430.94 L235.45,430.75 L239.60,430.57 L242.32,430.45 L244.87,430.32 L247.28,430.19 L249.60,430.06 L251.86,429.92 L254.10,429.79 L256.37,429.65 L258.70,429.52 L261.13,429.38 L263.70,429.25 L267.06,429.09 L270.60,428.94 L274.28,428.80 L278.04,428.66 L281.85,428.51 L285.66,428.36 L289.42,428.19 L293.10,428.01 L296.64,427.82 L300.00,427.60 L302.61,427.40 L305.14,427.19 L307.60,426.97 L310.00,426.74 L312.36,426.50 L314.70,426.26 L317.03,426.01" stroke-width="1.90" stroke-dasharray="3.500,3.500,1.167,3.500" stroke-dashoffset="0.00"/><path d="M317.03,426.01 L319.36,425.77 L321.71,425.52 L324.10,425.28 L326.51,425.03 L328.92,424.79 L331.33,424.55 L333.74,424.31 L336.15,424.06 L338.56,423.81 L340.97,423.55 L343.38,423.29 L345.79,423.03 L348.20,422.75 L350.61,422.47 L353.02,422.18 L355.43,421.88 L357.84,421.58 L360.25,421.27 L362.66,420.96 L365.07,420.64 L367.48,420.32 L369.89,420.00 L372.30,419.68 L374.74,419.35 L377.23,419.03 L379.75,418.71 L382.28,418.38 L384.79,418.05 L387.27,417.72 L389.69,417.37 L392.03,417.01 L394.27,416.64 L396.40,416.25 L397.93,415.95 L399.40,415.65 L400.81,415.35 L402.19,415.05 L403.52,414.74 L404.84,414.41 L406.13,414.07 L407.42,413.71 L408.70,413.33 L410.00,412.93" stroke-width="2.09" stroke-dasharray="3.461,3.461,1.154,3.461" stroke-dashoffset="7.92"/><path d="M410.00,412.93 L411.25,412.51 L412.49,412.08 L413.72,411.62 L414.94,411.15 L416.15,410.66 L417.35,410.16 L418.53,409.66 L419.70,409.14 L420.86,408.62 L422.00,408.09 L423.05,407.60 L424.10,407.09 L425.13,406.58 L426.15,406.05 L427.16,405.52 L428.15,404.99 L429.14,404.45" stroke-width="2.28" stroke-dasharray="3.352,3.352,1.117,3.352" stroke-dashoffset="8.85"/><path d="M429.14,404.45 L430.11,403.91 L431.06,403.36 L432.00,402.81 L432.85,402.28 L433.67,401.71 L434.48,401.12 L435.27,400.52 L436.06,399.93 L436.84,399.35" stroke-width="2.47" stroke-dasharray="3.192,3.192,1.064,3.192" stroke-dashoffset="7.13"/><path d="M436.84,399.35 L437.62,398.82 L438.41,398.34 L439.20,397.93 L440.00,397.60" stroke-width="2.28" stroke-dasharray="3.352,3.352,1.117,3.352" stroke-dashoffset="5.90"/><path d="M440.00,397.60 L440.69,397.42 L441.38,397.31 L442.06,397.27 L442.74,397.28 L443.43,397.30 L444.12,397.33 L444.82,397.33 L445.53,397.29 L446.26,397.19 L447.00,397.00 L448.03,396.63" stroke-width="2.09" stroke-dasharray="3.461,3.461,1.154,3.461" stroke-dashoffset="9.91"/><path d="M448.03,396.63 L449.09,396.17 L450.17,395.63 L451.28,395.01" stroke-width="2.28" stroke-dasharray="3.352,3.352,1.117,3.352" stroke-dashoffset="6.30"/><path d="M451.28,395.01 L452.39,394.35" stroke-width="2.28" stroke-dasharray="3.352,1.676,1.117,1.676" stroke-dashoffset="1.03"/><path d="M452.39,394.35 L453.52,393.64 L454.65,392.90 L455.78,392.13 L456.90,391.36 L458.00,390.60 L459.21,389.74 L460.41,388.83 L461.61,387.88 L462.82,386.91 L464.02,385.90 L465.22,384.89 L466.41,383.86 L467.61,382.83 L468.81,381.81 L470.00,380.80 L471.21,379.79 L472.41,378.77 L473.61,377.75 L474.81,376.72 L476.01,375.69 L477.21,374.66 L478.41,373.63 L479.61,372.59 L480.80,371.54 L482.00,370.50 L483.20,369.45 L484.40,368.39 L485.59,367.34 L486.78,366.28 L487.97,365.22 L489.17,364.16 L490.37,363.08 L491.57,362.00 L492.78,360.91 L494.00,359.80 L495.32,358.61 L496.65,357.42 L498.01,356.21 L499.37,354.99 L500.74,353.77 L502.10,352.53 L503.44,351.29 L504.76,350.04" stroke-width="2.47" stroke-dasharray="3.192,1.596,1.064,1.596" stroke-dashoffset="2.25"/><path d="M504.76,350.04 L506.05,348.77 L507.30,347.50 L508.47,346.26 L509.60,344.99 L510.72,343.70 L511.81,342.40 L512.89,341.10 L513.96,339.80 L515.02,338.52 L516.08,337.25 L517.14,336.01 L518.20,334.80 L519.17,333.74 L520.11,332.71 L521.05,331.72 L521.98,330.74 L522.91,329.77 L523.85,328.80 L524.80,327.80 L525.77,326.78 L526.77,325.72 L527.80,324.60 L529.14,323.13 L530.55,321.60 L532.00,320.02 L533.48,318.39 L534.98,316.73 L536.48,315.05 L537.98,313.35 L539.46,311.66 L540.90,309.97 L542.30,308.30 L543.62,306.67 L544.93,304.99 L546.23,303.28 L547.51,301.56 L548.78,299.85 L550.02,298.17 L551.25,296.52 L552.46,294.93 L553.64,293.42 L554.80,292.00 L555.69,290.98 L556.60,290.03 L557.50,289.13 L558.40,288.27 L559.28,287.43 L560.13,286.59 L560.93,285.74 L561.69,284.87 L562.38,283.96 L563.00,283.00 L563.51,282.03 L563.94,281.01" stroke-width="2.66" stroke-dasharray="3.001,1.501,1.000,1.501" stroke-dashoffset="4.52"/><path d="M563.94,281.01 L564.32,279.94 L564.66,278.86 L564.96,277.76 L565.23,276.68 L565.49,275.63 L565.75,274.62 L566.02,273.67 L566.30,272.80 L566.52,272.24" stroke-width="2.85" stroke-dasharray="2.800,1.400,0.933,1.400" stroke-dashoffset="3.14"/><path d="M566.52,272.24 L566.75,271.70 L566.99,271.18 L567.23,270.68 L567.47,270.20 L567.68,269.74 L567.87,269.29 L568.03,268.85 L568.14,268.42 L568.20,268.00 L568.22,267.70 L568.22,267.40 L568.20,267.11 L568.17,266.82 L568.13,266.55 L568.06,266.28 L567.97,266.02" stroke-width="2.85"/><path d="M567.97,266.02 L567.87,265.77 L567.75,265.53 L567.60,265.30 L567.41,265.06 L567.19,264.82" stroke-width="2.66"/><path d="M567.19,264.82 L566.93,264.60 L566.66,264.40 L566.36,264.20 L566.04,264.02" stroke-width="2.47"/><path d="M566.04,264.02 L565.70,263.85 L565.35,263.69 L564.98,263.54 L564.60,263.40" stroke-width="2.28"/><path d="M564.60,263.40 L564.03,263.23 L563.42,263.08 L562.77,262.97 L562.08,262.89 L561.37,262.82 L560.61,262.77" stroke-width="2.09"/><path d="M560.61,262.77 L559.83,262.73 L559.02,262.69" stroke-width="1.90"/><path d="M559.02,262.69 L558.17,262.65 L557.30,262.60 L555.88,262.53 L554.36,262.49 L552.74,262.46 L551.04,262.44 L549.28,262.44 L547.47,262.45 L545.62,262.46 L543.75,262.47 L541.87,262.49 L540.00,262.50 L537.81,262.52 L535.60,262.54 L533.36,262.57 L531.09,262.61 L528.77,262.65 L526.41,262.70 L524.00,262.75 L521.53,262.80 L519.00,262.85 L516.40,262.90 L513.03,262.97 L509.57,263.04 L506.02,263.11 L502.39,263.19 L498.67,263.27 L494.86,263.36 L490.97,263.44 L487.00,263.53 L482.94,263.62 L478.80,263.70 L473.41,263.80 L467.74,263.91 L461.85,264.02 L455.80,264.12 L449.67,264.23 L443.52,264.34 L437.41,264.45 L431.41,264.57 L425.58,264.68 L420.00,264.80 L415.45,264.90 L411.14,265.01 L406.98,265.12 L402.91,265.24 L398.86,265.35 L394.76,265.46 L390.53,265.57 L386.11,265.69 L381.42,265.79 L376.40,265.90 L368.25,266.05 L359.39,266.21 L349.97,266.37 L340.13,266.52 L330.00,266.67 L319.73,266.81 L309.45,266.95 L299.31,267.07 L289.45,267.19 L280.00,267.30 L271.74,267.39 L263.67,267.46 L255.74,267.53 L247.90,267.60 L240.11,267.65 L232.30,267.71 L224.44,267.76 L216.47,267.80 L208.34,267.85 L200.00,267.90 L190.40,267.95 L180.60,268.00 L170.64,268.04 L160.55,268.08 L150.37,268.12 L140.14,268.15 L129.87,268.19 L119.63,268.22 L109.42,268.26 L99.30,268.30" stroke-width="1.90" stroke-dasharray="3.500,3.500,1.167,3.500" stroke-dashoffset="1.14"/></g>
<g stroke="#00c0ff"><path d="M99.30,430.29 L103.68,430.30 L108.05,430.32 L112.41,430.34 L116.76,430.36 L121.12,430.38 L125.49,430.39 L129.88,430.40 L134.29,430.41 L138.73,430.40 L143.20,430.39 L147.93,430.36 L152.70,430.33 L157.49,430.29 L162.32,430.25 L167.16,430.20 L172.01,430.14 L176.87,430.08 L181.72,430.00 L186.57,429.92 L191.40,429.83 L196.29,429.73 L201.31,429.62 L206.38,429.50 L211.48,429.37 L216.54,429.24 L221.51,429.10 L226.36,428.95 L231.02,428.81 L235.45,428.66 L239.60,428.50 L242.32,428.40 L244.87,428.28 L247.28,428.17 L249.60,428.05 L251.86,427.93 L254.10,427.81 L256.37,427.70 L258.70,427.58 L261.13,427.46 L263.70,427.34 L267.06,427.21 L270.60,427.08 L274.28,426.97 L278.04,426.85 L281.85,426.73 L285.66,426.61 L289.42,426.47 L293.10,426.32 L296.64,426.14 L300.00,425.94 L302.61,425.76 L305.14,425.56 L307.60,425.35 L310.00,425.13 L312.36,424.90 L314.70,424.66 L317.03,424.43 L319.36,424.18 L321.71,423.94 L324.10,423.71 L326.51,423.48 L328.92,423.24 L331.33,423.01 L333.74,422.77" stroke-width="1.90" stroke-dasharray="2.333,2.333,2.333,7.000" stroke-dashoffset="0.00"/><path d="M333.74,422.77 L336.15,422.54 L338.56,422.29 L340.97,422.05 L343.38,421.80 L345.79,421.54 L348.20,421.27 L350.61,421.00 L353.02,420.72 L355.43,420.44 L357.84,420.15 L360.25,419.85 L362.66,419.55 L365.07,419.25 L367.48,418.94 L369.89,418.63 L372.30,418.32 L374.74,418.02 L377.23,417.71 L379.75,417.41 L382.28,417.10 L384.79,416.79 L387.27,416.47 L389.69,416.14 L392.03,415.80 L394.27,415.44 L396.40,415.06 L397.93,414.77 L399.40,414.47 L400.81,414.18 L402.19,413.87 L403.52,413.56 L404.84,413.23 L406.13,412.89 L407.42,412.53 L408.70,412.15" stroke-width="2.09" stroke-dasharray="2.308,2.308,2.308,6.923" stroke-dashoffset="10.67"/><path d="M408.70,412.15 L410.00,411.75 L411.25,411.33 L412.49,410.89 L413.72,410.43 L414.94,409.96 L416.15,409.47 L417.35,408.96 L418.53,408.45 L419.70,407.94 L420.86,407.41 L422.00,406.89 L423.05,406.39 L424.10,405.89 L425.13,405.38 L426.15,404.86 L427.15,404.34 L428.15,403.81 L429.13,403.28 L430.10,402.74" stroke-width="2.28" stroke-dasharray="2.235,2.235,2.235,6.705" stroke-dashoffset="2.91"/><path d="M430.10,402.74 L431.06,402.20 L432.00,401.67 L432.84,401.15 L433.67,400.59 L434.48,400.00 L435.27,399.40 L436.06,398.82" stroke-width="2.47" stroke-dasharray="2.128,2.128,2.128,6.384" stroke-dashoffset="12.32"/><path d="M436.06,398.82 L436.84,398.26 L437.62,397.74 L438.41,397.29 L439.20,396.91 L440.00,396.64" stroke-width="2.28" stroke-dasharray="2.235,2.235,2.235,6.705" stroke-dashoffset="6.94"/><path d="M440.00,396.64 L440.69,396.50 L441.38,396.47 L442.06,396.52 L442.75,396.61 L443.44,396.73 L444.13,396.85 L444.83,396.94 L445.54,396.98 L446.26,396.94 L447.00,396.80" stroke-width="2.09" stroke-dasharray="2.308,2.308,2.308,6.923" stroke-dashoffset="11.93"/><path d="M447.00,396.80 L448.03,396.46 L449.09,395.99 L450.18,395.42 L451.28,394.77" stroke-width="2.28" stroke-dasharray="2.235,2.235,2.235,6.705" stroke-dashoffset="4.94"/><path d="M451.28,394.77 L452.40,394.04" stroke-width="2.28" stroke-dasharray="2.235,1.676,2.235,3.352" stroke-dashoffset="3.03"/><path d="M452.40,394.04 L453.52,393.27 L454.65,392.46 L455.78,391.63 L456.90,390.81 L458.00,390.00 L459.20,389.11 L460.41,388.18 L461.61,387.21 L462.81,386.21 L464.01,385.19 L465.21,384.16 L466.41,383.11 L467.61,382.07 L468.81,381.03 L470.00,380.00 L471.21,378.97 L472.41,377.93 L473.61,376.89 L474.81,375.85 L476.02,374.80 L477.21,373.75 L478.41,372.69 L479.61,371.63 L480.81,370.57 L482.00,369.50 L483.21,368.42 L484.42,367.34 L485.64,366.25 L486.86,365.16 L488.07,364.07 L489.28,362.97 L490.48,361.87 L491.66,360.75 L492.84,359.63 L494.00,358.50" stroke-width="2.47" stroke-dasharray="2.128,1.596,2.128,3.192" stroke-dashoffset="4.19"/><path d="M494.00,358.50 L495.14,357.36 L496.30,356.20 L497.45,355.02 L498.60,353.82 L499.73,352.63 L500.84,351.44 L501.92,350.27 L502.96,349.12 L503.96,347.99 L504.90,346.90 L505.61,346.06 L506.29,345.23 L506.96,344.42 L507.60,343.62 L508.21,342.83 L508.81,342.05 L509.38,341.28 L509.94,340.51 L510.48,339.75 L511.00,339.00 L511.43,338.37 L511.85,337.74 L512.27,337.12 L512.68,336.50 L513.07,335.88 L513.43,335.28 L513.78,334.69 L514.09,334.11 L514.36,333.54" stroke-width="2.66" stroke-dasharray="2.001,1.501,2.001,3.001" stroke-dashoffset="5.16"/><path d="M514.36,333.54 L514.60,333.00 L514.75,332.62 L514.88,332.25 L515.01,331.88 L515.12,331.52 L515.21,331.17 L515.29,330.82 L515.34,330.48 L515.38,330.15 L515.40,329.82 L515.40,329.50 L515.38,329.23 L515.35,328.96" stroke-width="2.85" stroke-dasharray="1.867,1.400,1.867,2.800" stroke-dashoffset="2.97"/><path d="M515.35,328.96 L515.31,328.69 L515.25,328.42 L515.18,328.16 L515.10,327.91" stroke-width="2.85"/><path d="M515.10,327.91 L515.00,327.66 L514.88,327.43 L514.75,327.21 L514.60,327.00 L514.42,326.79" stroke-width="2.66"/><path d="M514.42,326.79 L514.22,326.59 L514.00,326.41 L513.77,326.23 L513.51,326.07 L513.24,325.92" stroke-width="2.47"/><path d="M513.24,325.92 L512.95,325.77 L512.65,325.64 L512.33,325.52 L512.00,325.40" stroke-width="2.28"/><path d="M512.00,325.40 L511.47,325.25 L510.92,325.13 L510.34,325.05 L509.73,324.99" stroke-width="2.09"/><path d="M509.73,324.99 L509.08,324.94" stroke-width="2.09" stroke-dasharray="2.308,2.308,2.308,6.923" stroke-dashoffset="11.87"/><path d="M509.08,324.94 L508.37,324.91 L507.62,324.89 L506.81,324.86 L505.94,324.84 L505.00,324.80 L502.51,324.71 L499.57,324.65 L496.24,324.62 L492.60,324.60 L488.72,324.59 L484.67,324.60 L480.52,324.62 L476.34,324.64 L472.21,324.67 L468.20,324.70 L463.68,324.74 L459.12,324.80 L454.50,324.87 L449.82,324.94 L445.07,325.03 L440.24,325.13 L435.32,325.22 L430.32,325.32 L425.21,325.41 L420.00,325.50 L413.51,325.61 L406.76,325.72 L399.81,325.83 L392.71,325.95 L385.52,326.06 L378.29,326.18 L371.06,326.29 L363.91,326.40 L356.87,326.50 L350.00,326.60 L343.76,326.68 L337.68,326.76 L331.70,326.84 L325.77,326.92 L319.85,326.99 L313.90,327.05 L307.87,327.12 L301.70,327.18 L295.36,327.24 L288.80,327.30 L280.60,327.37 L272.15,327.43 L263.47,327.48 L254.62,327.54 L245.63,327.59 L236.54,327.63 L227.40,327.68 L218.23,327.72 L209.08,327.76 L200.00,327.80 L190.59,327.84 L181.12,327.87 L171.61,327.91 L162.05,327.94 L152.47,327.96 L142.87,327.99 L133.26,328.02 L123.66,328.04 L114.07,328.07 L104.50,328.10" stroke-width="1.90" stroke-dasharray="2.333,2.333,2.333,7.000" stroke-dashoffset="12.66"/></g>
<g stroke="#0040ff"><path d="M99.30,429.30 L103.68,429.31 L108.05,429.33 L112.41,429.35 L116.76,429.37 L121.12,429.39 L125.49,429.40 L129.88,429.41 L134.29,429.42 L138.73,429.41 L143.20,429.40 L147.93,429.38 L152.70,429.35 L157.49,429.32 L162.32,429.28 L167.16,429.23 L172.01,429.18 L176.87,429.12 L181.72,429.05 L186.57,428.98 L191.40,428.90 L196.29,428.81 L201.31,428.71 L206.38,428.60 L211.47,428.49 L216.53,428.37 L221.51,428.24 L226.36,428.11 L231.02,427.98 L235.45,427.84 L239.60,427.70 L242.32,427.60 L244.87,427.49 L247.28,427.38 L249.60,427.27 L251.86,427.16 L254.10,427.05 L256.37,426.93 L258.70,426.82 L261.13,426.71 L263.70,426.60 L267.06,426.47 L270.60,426.36 L274.28,426.25 L278.04,426.15 L281.85,426.04 L285.66,425.93 L289.42,425.80 L293.10,425.66 L296.64,425.49 L300.00,425.30 L302.61,425.12 L305.14,424.93 L307.60,424.72 L310.00,424.50 L312.36,424.28 L314.70,424.04 L317.03,423.81 L319.36,423.57 L321.71,423.33 L324.10,423.10 L326.51,422.87 L328.92,422.64 L331.33,422.41 L333.74,422.18 L336.15,421.94" stroke-width="1.90" stroke-dasharray="1.167,2.333,7.000,2.333,1.167,2.333" stroke-dashoffset="0.00"/><path d="M336.15,421.94 L338.56,421.71 L340.97,421.46 L343.38,421.21 L345.79,420.96 L348.20,420.70 L350.61,420.43 L353.02,420.16 L355.43,419.88 L357.84,419.59 L360.25,419.30 L362.66,419.01 L365.07,418.71 L367.48,418.41 L369.89,418.10 L372.30,417.80 L374.74,417.50 L377.21,417.21 L379.70,416.91 L382.20,416.62 L384.69,416.32 L387.15,416.01 L389.57,415.69 L391.93,415.35 L394.21,414.99 L396.40,414.60 L398.12,414.27 L399.79,413.94 L401.42,413.61 L403.01,413.26 L404.57,412.90 L406.10,412.53 L407.61,412.13 L409.09,411.71 L410.55,411.27" stroke-width="2.09" stroke-dasharray="1.154,2.308,6.923,2.308,1.154,2.308" stroke-dashoffset="8.44"/><path d="M410.55,411.27 L412.00,410.80 L413.29,410.35 L414.55,409.87 L415.78,409.37 L416.99,408.86 L418.19,408.33 L419.37,407.78 L420.55,407.23 L421.73,406.66 L422.91,406.08 L424.10,405.50 L425.33,404.88 L426.59,404.23 L427.85,403.55 L429.12,402.86 L430.38,402.16 L431.61,401.47 L432.82,400.80 L433.97,400.15 L435.07,399.55 L436.10,399.00 L436.77,398.65 L437.41,398.32 L438.01,398.01 L438.60,397.72 L439.17,397.43 L439.73,397.15 L440.28,396.87 L440.84,396.59 L441.41,396.30 L442.00,396.00 L442.62,395.69 L443.23,395.38 L443.86,395.07 L444.48,394.76 L445.11,394.44 L445.73,394.13 L446.35,393.81 L446.97,393.48 L447.59,393.14 L448.20,392.80 L448.81,392.45" stroke-width="2.28" stroke-dasharray="1.117,2.235,6.705,2.235,1.117,2.235" stroke-dashoffset="2.47"/><path d="M448.81,392.45 L449.42,392.09 L450.02,391.72 L450.63,391.35 L451.23,390.98 L451.83,390.59 L452.42,390.21 L453.02,389.81 L453.61,389.41 L454.20,389.00 L454.81,388.57 L455.41,388.13 L456.01,387.68 L456.61,387.22 L457.21,386.76 L457.81,386.29 L458.41,385.82 L459.00,385.34 L459.60,384.87 L460.20,384.40 L460.81,383.92 L461.43,383.45 L462.04,382.97 L462.66,382.49 L463.27,382.01 L463.88,381.53 L464.49,381.03 L465.10,380.53 L465.70,380.02 L466.30,379.50 L466.91,378.95 L467.52,378.38 L468.12,377.81 L468.71,377.23 L469.31,376.64" stroke-width="2.47" stroke-dasharray="1.064,2.128,6.384,2.128,1.064,2.128" stroke-dashoffset="13.59"/><path d="M469.31,376.64 L469.90,376.04 L470.49,375.44 L471.09,374.83 L471.69,374.22 L472.30,373.60 L472.97,372.92 L473.67,372.23 L474.38,371.52 L475.10,370.81" stroke-width="2.66" stroke-dasharray="1.000,2.001,6.003,2.001,1.000,2.001" stroke-dashoffset="9.23"/><path d="M475.10,370.81 L475.81,370.09 L476.51,369.37 L477.19,368.66 L477.84,367.95 L478.45,367.27 L479.00,366.60 L479.40,366.09 L479.79,365.59 L480.17,365.08 L480.54,364.59 L480.88,364.09 L481.20,363.61 L481.50,363.14 L481.76,362.68 L482.00,362.23 L482.20,361.80" stroke-width="2.66"/><path d="M482.20,361.80 L482.32,361.52 L482.43,361.24 L482.54,360.96 L482.63,360.70 L482.71,360.44 L482.77,360.18 L482.81,359.93 L482.83,359.68 L482.83,359.44 L482.80,359.20 L482.75,358.98 L482.67,358.76" stroke-width="2.85"/><path d="M482.67,358.76 L482.57,358.54 L482.46,358.33 L482.32,358.12 L482.18,357.92 L482.02,357.73 L481.85,357.54 L481.68,357.37" stroke-width="2.66"/><path d="M481.68,357.37 L481.50,357.20 L481.30,357.03 L481.09,356.87 L480.86,356.73 L480.62,356.59" stroke-width="2.47"/><path d="M480.62,356.59 L480.37,356.46 L480.11,356.34 L479.85,356.22 L479.57,356.11 L479.29,356.01 L479.00,355.90 L478.63,355.78" stroke-width="2.28"/><path d="M478.63,355.78 L478.24,355.66 L477.84,355.56 L477.43,355.46 L477.00,355.38 L476.57,355.29 L476.12,355.22 L475.65,355.14 L475.18,355.07 L474.70,355.00 L474.07,354.91 L473.44,354.83 L472.79,354.76 L472.12,354.70" stroke-width="2.09"/><path d="M472.12,354.70 L471.44,354.64 L470.72,354.58 L469.98,354.53 L469.19,354.49 L468.37,354.44 L467.50,354.40 L465.99,354.34 L464.38,354.29" stroke-width="1.90" stroke-dasharray="1.167,2.333,7.000,2.333,1.167,2.333" stroke-dashoffset="0.70"/><path d="M464.38,354.29 L462.67,354.25 L460.87,354.22 L458.98,354.20 L456.99,354.19 L454.92,354.19 L452.77,354.19 L450.52,354.19 L448.20,354.20 L444.27,354.23 L439.98,354.29 L435.39,354.36 L430.56,354.46 L425.56,354.56 L420.45,354.68 L415.27,354.79 L410.10,354.90 L404.99,355.01 L400.00,355.10 L394.89,355.19 L389.73,355.27 L384.54,355.35 L379.32,355.43 L374.10,355.51 L368.88,355.58 L363.66,355.66 L358.47,355.74 L353.31,355.82 L348.20,355.90 L343.40,355.98 L338.77,356.06 L334.25,356.13 L329.77,356.21 L325.26,356.29 L320.66,356.37 L315.90,356.45 L310.91,356.53 L305.64,356.61 L300.00,356.70 L290.51,356.84 L280.11,356.98 L268.97,357.13 L257.29,357.28 L245.26,357.44 L233.06,357.59 L220.88,357.75 L208.92,357.90 L197.37,358.05 L186.40,358.20 L177.22,358.32 L168.24,358.45 L159.42,358.57 L150.73,358.69 L142.13,358.81 L133.59,358.93 L125.07,359.04 L116.54,359.16 L107.96,359.28 L99.30,359.40" stroke-width="1.90" stroke-dasharray="1.167,2.333,7.000,1.167" stroke-dashoffset="1.46"/></g>
</g>
<g fill="none" stroke-width="1.90">
<path d="M698,303.90 L761.2,303.90" stroke="#ff0000"/>
<path d="M698,326.96 L761.2,326.96" stroke="#ff8000" stroke-dasharray="4.667,2.333"/>
<path d="M698,350.02 L761.2,350.02" stroke="#eaff00" stroke-dasharray="2.333,3.500"/>
<path d="M698,373.08 L761.2,373.08" stroke="#6aff00" stroke-dasharray="1.167,1.750"/>
<path d="M698,396.14 L761.2,396.14" stroke="#00ff2a" stroke-dasharray="7.000,2.333,1.167,2.333"/>
<path d="M698,419.20 L761.2,419.20" stroke="#00ffaa" stroke-dasharray="3.500,3.500,1.167,3.500"/>
<path d="M698,442.26 L761.2,442.26" stroke="#00c0ff" stroke-dasharray="2.333,2.333,2.333,7.000"/>
<path d="M698,465.32 L761.2,465.32" stroke="#0040ff" stroke-dasharray="1.167,2.333,7.000,2.333,1.167,2.333"/>
</g>
<g fill="none" stroke="#000" stroke-width="1.50">
<rect x="99.25" y="27.65" width="689.60" height="456.30"/>
</g><g fill="none" stroke="#000" stroke-width="1.2">
<path d="M99.25,483.95 h7.30 M788.85,483.95 h-7.30"/>
<path d="M99.25,400.99 h7.30 M788.85,400.99 h-7.30"/>
<path d="M99.25,318.02 h7.30 M788.85,318.02 h-7.30"/>
<path d="M99.25,235.06 h7.30 M788.85,235.06 h-7.30"/>
<path d="M99.25,152.10 h7.30 M788.85,152.10 h-7.30"/>
<path d="M99.25,69.13 h7.30 M788.85,69.13 h-7.30"/>
<path d="M99.25,483.95 v-7.30 M99.25,27.65 v7.30"/>
<path d="M205.34,483.95 v-7.30 M205.34,27.65 v7.30"/>
<path d="M311.43,483.95 v-7.30 M311.43,27.65 v7.30"/>
<path d="M417.53,483.95 v-7.30 M417.53,27.65 v7.30"/>
<path d="M523.62,483.95 v-7.30 M523.62,27.65 v7.30"/>
<path d="M629.71,483.95 v-7.30 M629.71,27.65 v7.30"/>
<path d="M735.80,483.95 v-7.30 M735.80,27.65 v7.30"/>
</g>
<g font-size="23.06px">
<text x="84.9" y="492.25" text-anchor="end">-20</text>
<text x="84.9" y="409.29" text-anchor="end">0</text>
<text x="84.9" y="326.32" text-anchor="end">20</text>
<text x="84.9" y="243.36" text-anchor="end">40</text>
<text x="84.9" y="160.40" text-anchor="end">60</text>
<text x="84.9" y="77.43" text-anchor="end">80</text>
<text x="102.45" y="514.9" text-anchor="middle">9.2</text>
<text x="208.54" y="514.9" text-anchor="middle">9.3</text>
<text x="314.63" y="514.9" text-anchor="middle">9.4</text>
<text x="420.73" y="514.9" text-anchor="middle">9.5</text>
<text x="526.82" y="514.9" text-anchor="middle">9.6</text>
<text x="632.91" y="514.9" text-anchor="middle">9.7</text>
<text x="739.00" y="514.9" text-anchor="middle">9.8</text>
<text x="396.3" y="546.9">log T<tspan font-size="18.45px" dy="6.8">c</tspan><tspan dy="-6.8"> [K]</tspan></text>
<text transform="translate(29.1,422) rotate(-90)">Total explosion energy [10<tspan font-size="18.45px" dy="-11.8">51</tspan><tspan dy="11.8"> erg]</tspan></text>
<text x="580.6" y="276.7" textLength="124.2" lengthAdjust="spacing">case A, Z=0</text>
<text x="684.3" y="309.40" text-anchor="end">280 M<tspan font-size="18.45px" dy="6.8">sun</tspan></text>
<text x="684.3" y="332.46" text-anchor="end">260 M<tspan font-size="18.45px" dy="6.8">sun</tspan></text>
<text x="684.3" y="355.52" text-anchor="end">240 M<tspan font-size="18.45px" dy="6.8">sun</tspan></text>
<text x="684.3" y="378.58" text-anchor="end">220 M<tspan font-size="18.45px" dy="6.8">sun</tspan></text>
<text x="684.3" y="401.64" text-anchor="end">200 M<tspan font-size="18.45px" dy="6.8">sun</tspan></text>
<text x="684.3" y="424.70" text-anchor="end">180 M<tspan font-size="18.45px" dy="6.8">sun</tspan></text>
<text x="684.3" y="447.76" text-anchor="end">160 M<tspan font-size="18.45px" dy="6.8">sun</tspan></text>
<text x="684.3" y="470.82" text-anchor="end">145 M<tspan font-size="18.45px" dy="6.8">sun</tspan></text>
</g>
</svg></body></html>
